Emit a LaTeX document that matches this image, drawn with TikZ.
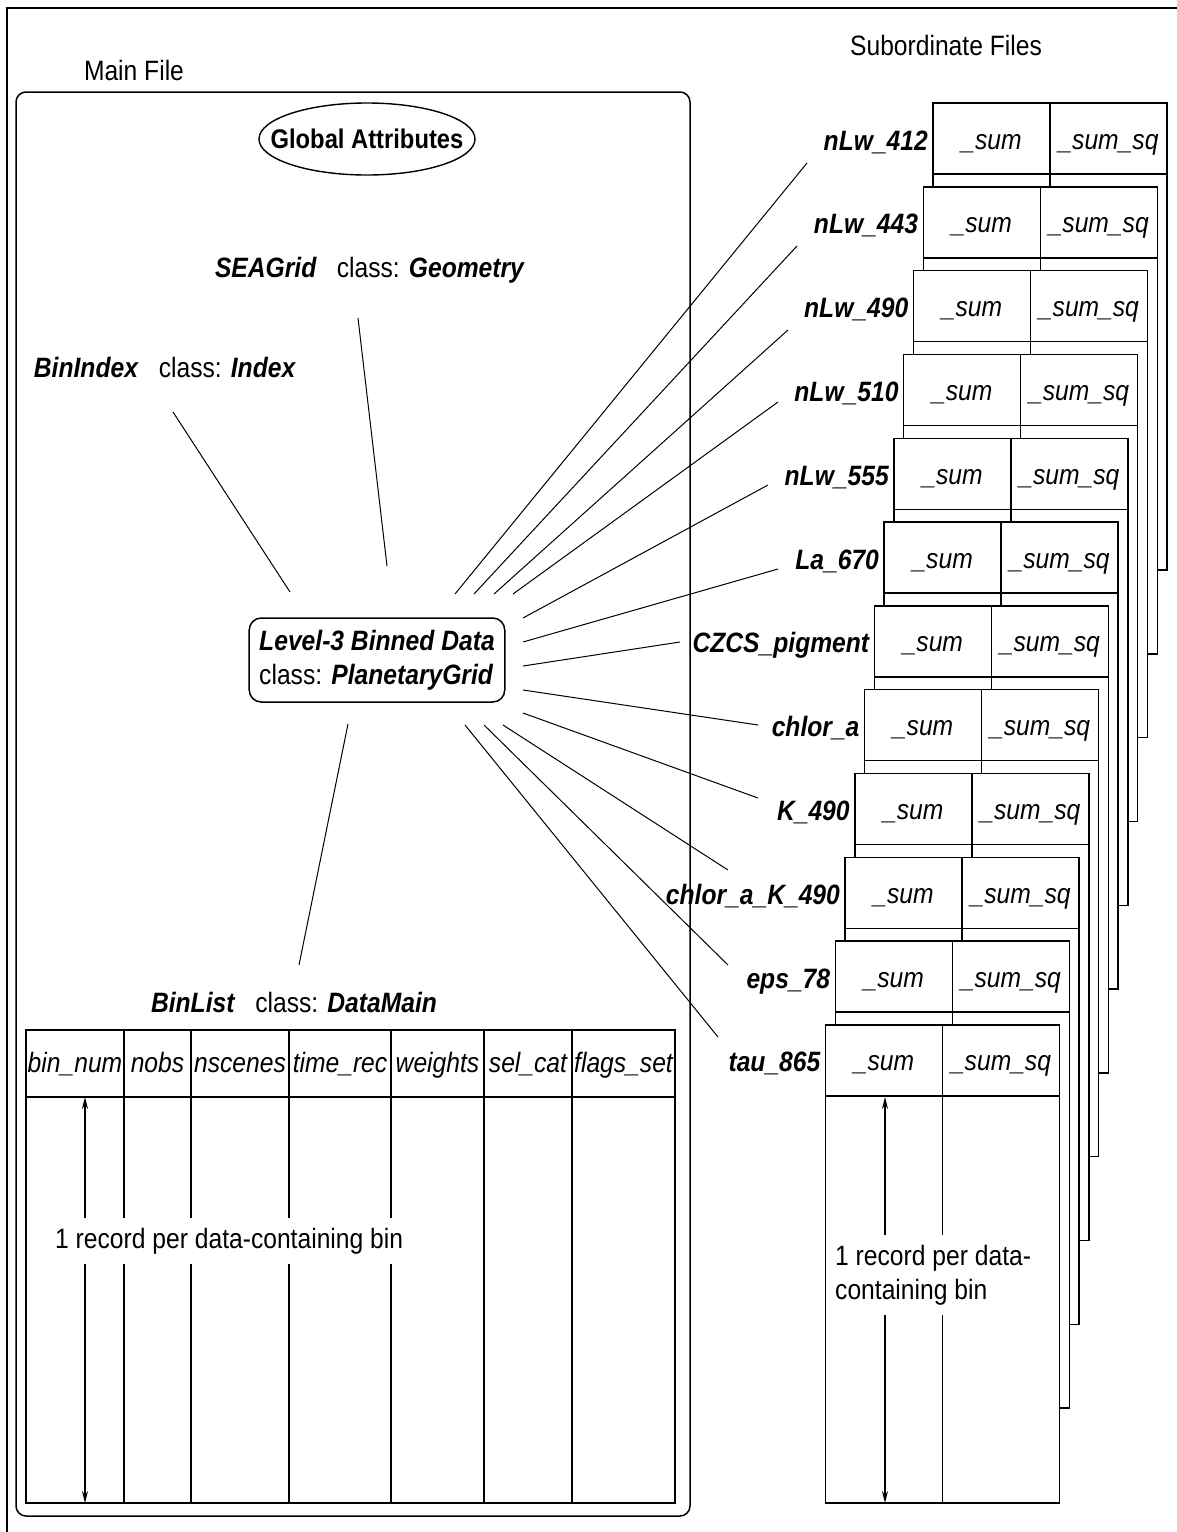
\documentclass[tikz,border=0pt]{standalone}
\usepackage{fontspec}
\setmainfont{Liberation Sans}[FakeStretch=0.88]
\usetikzlibrary{shapes.geometric,arrows.meta}

\begin{document}
\begin{tikzpicture}[x=1pt,y=-1pt,
  font=\fontsize{28}{34}\selectfont,
  frame/.style={line width=2.5pt},
  filebox/.style={line width=1.5pt, rounded corners=10pt},
  tbl/.style={line width=1.4pt},
  link/.style={line width=1pt},
  cell/.style={font=\fontsize{28}{34}\selectfont\itshape, inner sep=0pt, anchor=base},
  varname/.style={font=\fontsize{28}{34}\selectfont\bfseries\itshape, inner sep=0pt, anchor=base east},
  objname/.style={inner sep=0pt},
  recnote/.style={fill=white, inner xsep=4pt, inner ysep=10pt, align=left},
  recspan/.style={line width=1.2pt, {Stealth[length=12pt,width=6pt]}-{Stealth[length=12pt,width=6pt]}}]
  \useasboundingbox (0,0) rectangle (1177,1532);
  % Frame
  \draw[frame] (7,1532) -- (7,8) -- (1177,8);
  % Main file
  \node (mainfile) at (134,70) {Main File};
  \node (subfiles) at (946,45) {Subordinate Files};
  \draw[filebox] (16,92) rectangle (690,1516);
  \node[inner sep=0pt, font=\fontsize{27}{30}\selectfont\bfseries] (glob) at (367,139) {Global Attributes};
  \draw[line width=1.4pt] (glob.center) ellipse [x radius=108, y radius=36];
  \node[objname] (seagrid) at (370,270) {\textbf{\textit{SEAGrid}}\hspace{20pt}class: \textbf{\textit{Geometry}}};
  \node[objname] (binindex) at (165,367) {\textbf{\textit{BinIndex}}\hspace{20pt}class: \textbf{\textit{Index}}};
  \node[draw, line width=1.5pt, rounded corners=12pt, minimum width=255pt, minimum height=84pt,
        align=left, inner xsep=10pt] (lvl) at (377,660)
       {\textbf{\textit{Level-3 Binned Data}}\\class: \textbf{\textit{PlanetaryGrid}}};
  \node[objname] (binlist) at (294,1002) {\textbf{\textit{BinList}}\hspace{20pt}class: \textbf{\textit{DataMain}}};
  % Links inside main file
  \coordinate (sgA) at (358,318); \coordinate (sgB) at (387,566);
  \coordinate (biA) at (173,412); \coordinate (biB) at (290,592);
  \coordinate (blA) at (348,724); \coordinate (blB) at (299,965);
  \draw[link] (sgA) -- (sgB);
  \draw[link] (biA) -- (biB);
  \draw[link] (blA) -- (blB);
  % BinList table
  \draw[tbl] (26,1030) rectangle (675,1503);
  \draw[tbl] (26,1097) -- (675,1097);
  \foreach \x in {124,191,289,391,484,572}
    \draw[tbl] (\x,1030) -- (\x,1503);
  \foreach \t/\c [count=\k] in {bin\_num/75, nobs/157.5, nscenes/240, time\_rec/340,
                              weights/437.5, sel\_cat/528, flags\_set/623.5}
    \node[cell] (h\k) at (\c,1072) {\t};
  \coordinate (mtop) at (85,1097); \coordinate (mbot) at (85,1503);
  \draw[recspan] (mtop) -- (mbot);
  \node[recnote, anchor=west] (mrec) at (51,1241) {1 record per data-containing bin};
  % Subordinate files: one table per variable, back to front
  \foreach \vname/\sx/\sy/\ex/\ey [count=\i from 0] in
     {nLw\_412/455/594/807/163, nLw\_443/474/594/797/246, nLw\_490/494/594/788/330,
      nLw\_510/513/594/778/402, nLw\_555/523/618/768/485, La\_670/523/642/778/569,
      CZCS\_pigment/523/666/680/642, chlor\_a/523/690/758/725, K\_490/523/713/758/798,
      chlor\_a\_K\_490/503/725/728/870, eps\_78/484/725/728/965, tau\_865/465/725/718/1037}
  {
    \pgfmathsetmacro\xl{933-9.77*\i}
    \pgfmathsetmacro\yt{103+83.8*\i}
    \pgfmathsetmacro\yb{\i==11 ? 1503 : 570+83.8*\i}
    \draw[tbl, fill=white] (\xl,\yt) rectangle (\xl+234,\yb);
    \draw[tbl] (\xl,\yt+71) -- (\xl+234,\yt+71);
    \draw[tbl] (\xl+117,\yt) -- (\xl+117,\yb);
    \node[cell] (s\i) at (\xl+58.5,\yt+46) {\_sum};
    \node[cell] (q\i) at (\xl+175.5,\yt+46) {\_sum\_sq};
    \node[varname] (v\i) at (\xl-5,\yt+47) {\vname};
    \coordinate (ls\i) at (\sx,\sy);
    \coordinate (le\i) at (\ex,\ey);
    \draw[link] (ls\i) -- (le\i);
  }
  \coordinate (stop) at (885,1097); \coordinate (sbot) at (885,1503);
  \draw[recspan] (stop) -- (sbot);
  \node[recnote, anchor=west] (srec) at (831,1275) {1 record per data-\\containing bin};
\end{tikzpicture}
\end{document}
